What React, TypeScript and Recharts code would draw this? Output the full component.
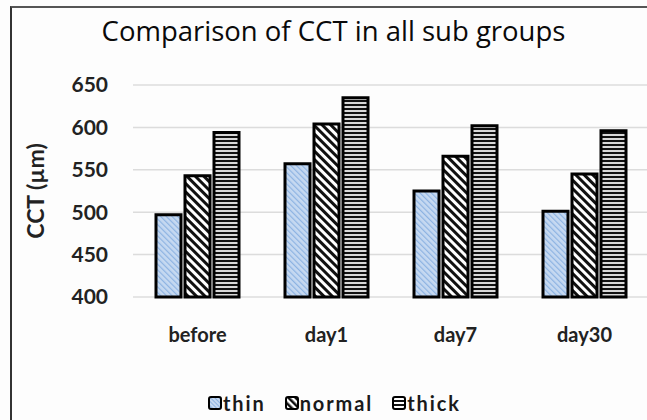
import { BarChart, Bar, XAxis, YAxis, CartesianGrid } from "recharts";

const groups = ["before", "day1", "day7", "day30"];
const thin = [497, 557, 525, 501];
const normal = [543, 604, 566, 545];
const thick = [594, 635, 602, 596];
const yTicks = [400, 450, 500, 550, 600, 650];
const seriesNames = ["thin", "normal", "thick"];

const data = groups.map((g, i) => ({ group: g, thin: thin[i], normal: normal[i], thick: thick[i] }));

const font = "Lato, 'Open Sans', sans-serif";

function Patterns() {
  return (
    <svg width={0} height={0} style={{ position: "absolute" }}>
      <defs>
        <pattern id="pThin" width={4} height={4} patternUnits="userSpaceOnUse" patternTransform="rotate(-45)">
          <rect width={4} height={4} fill="#c6d9f1" />
          <rect width={1.2} height={4} fill="#8db3e2" />
        </pattern>
        <pattern id="pNormal" width={6} height={6} patternUnits="userSpaceOnUse" patternTransform="rotate(-45)">
          <rect width={6} height={6} fill="#fff" />
          <rect width={3} height={6} fill="#111" />
        </pattern>
        <pattern id="pThick" width={4} height={4} patternUnits="userSpaceOnUse">
          <rect width={4} height={4} fill="#d8d8d8" />
          <rect width={4} height={2} fill="#111" />
        </pattern>
        <pattern id="lThin" width={3} height={3} patternUnits="userSpaceOnUse" patternTransform="rotate(-45)">
          <rect width={3} height={3} fill="#c6d9f1" />
          <rect width={1} height={3} fill="#8db3e2" />
        </pattern>
        <pattern id="lNormal" width={5} height={5} patternUnits="userSpaceOnUse" patternTransform="rotate(-45)">
          <rect width={5} height={5} fill="#fff" />
          <rect width={2.5} height={5} fill="#111" />
        </pattern>
        <pattern id="lThick" width={4} height={4} patternUnits="userSpaceOnUse">
          <rect width={4} height={4} fill="#fff" />
          <rect width={4} height={2} fill="#111" />
        </pattern>
      </defs>
    </svg>
  );
}

const fills = ["url(#pThin)", "url(#pNormal)", "url(#pThick)"];
const legendFills = ["url(#lThin)", "url(#lNormal)", "url(#lThick)"];

export default function App() {
  return (
    <div style={{ position: "fixed", left: 0, top: 0, width: 647, height: 420, overflow: "hidden", background: "#fdfdfd" }}>
      <Patterns />
      <div style={{ position: "absolute", left: 10, top: 6, width: 700, height: 500, borderLeft: "2px solid #333", borderTop: "2px solid #555" }} />
      <div style={{ position: "absolute", left: 0, width: 667, top: 14, textAlign: "center", fontFamily: "'Open Sans', sans-serif", fontSize: 27.5, fontWeight: 500, lineHeight: "34px", color: "#0a0a0a" }}>
        Comparison of CCT in all sub groups
      </div>
      <div style={{ position: "absolute", left: 0, top: 0 }}>
        <BarChart width={660} height={420} data={data} margin={{ top: 85, right: 11, left: 0, bottom: 0 }} barGap={4} barSize={25}>
          <CartesianGrid vertical={false} stroke="#dcdcdc" strokeWidth={1.5} />
          <XAxis dataKey="group" axisLine={false} tickLine={false} height={123} tickMargin={25}
            tick={{ fontFamily: font, fontSize: 20, fontWeight: 700, fill: "#222" }} interval={0} />
          <YAxis domain={[400, 650]} ticks={yTicks} axisLine={false} tickLine={false} width={133} tickMargin={19}
            tick={{ fontFamily: font, fontSize: 21, fontWeight: 700, fill: "#222" }}
            label={(p: any) => {
              const vb = p.viewBox;
              const cy = vb.y + vb.height / 2;
              return (
                <text x={35} y={cy} transform={`rotate(-90, 35, ${cy})`} textAnchor="middle" dominantBaseline="central"
                  style={{ fontFamily: font, fontSize: 23, fontWeight: 700, fill: "#222" }}>
                  CCT (µm)
                </text>
              );
            }} />
          {seriesNames.map((s, i) => (
            <Bar key={s} dataKey={s} name={s} fill={fills[i]} stroke="#000" strokeWidth={3} isAnimationActive={false} />
          ))}
        </BarChart>
      </div>
      <div style={{ position: "absolute", left: 208, top: 391, display: "flex", gap: 19, fontFamily: font, fontSize: 20, fontWeight: 700, color: "#1a1a1a" }}>
        {seriesNames.map((s, i) => (
          <div key={s} style={{ display: "flex", alignItems: "center", gap: 1 }}>
            <svg width={14} height={14}>
              <rect x={1} y={1} width={12} height={12} rx={2} fill={legendFills[i]} stroke="#000" strokeWidth={2} />
            </svg>
            <span style={{ letterSpacing: 1.9 }}>{s}</span>
          </div>
        ))}
      </div>
    </div>
  );
}
